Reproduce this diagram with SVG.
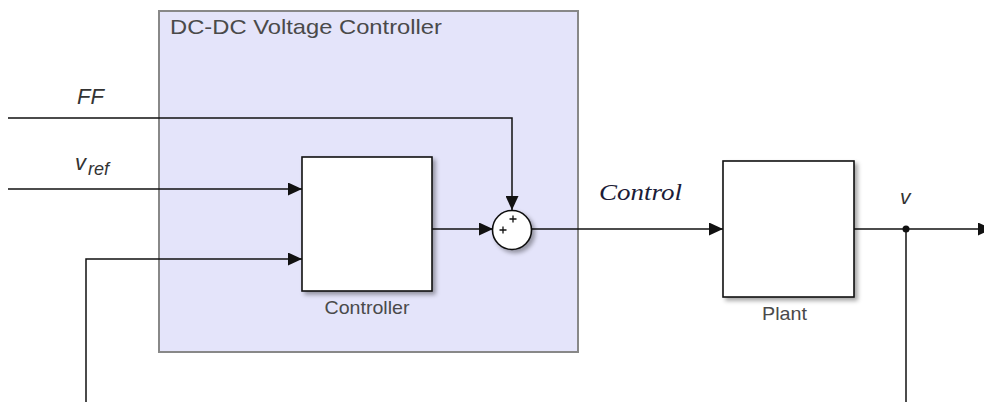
<svg xmlns="http://www.w3.org/2000/svg" width="984" height="402" viewBox="0 0 984 402">
<style>
.wire{fill:none;stroke:#111;stroke-width:1.5}
.blk{fill:#fff;stroke:#111;stroke-width:1.6}
.lbl{font-family:"Liberation Sans",Arial,sans-serif;fill:#4a4a4a}
.sig{font-family:"Liberation Sans",Arial,sans-serif;font-style:italic;fill:#333}
</style>
<defs>
<marker id="arr" markerUnits="userSpaceOnUse" markerWidth="14" markerHeight="13" refX="14" refY="6.5" orient="auto">
<path d="M0,0 L14,6.5 L0,13 z" fill="#111"/>
</marker>
<filter id="sh" x="-20%" y="-20%" width="150%" height="150%">
<feDropShadow dx="3" dy="3" stdDeviation="2.2" flood-color="#000" flood-opacity="0.35"/>
</filter>
</defs>
<rect width="984" height="402" fill="#fff"/>
<g id="subsystem">
<rect x="159" y="11" width="419" height="341" fill="#e4e4fa" stroke="#888" stroke-width="2"/>
<text class="lbl" x="170" y="34" font-size="21" textLength="272" lengthAdjust="spacingAndGlyphs">DC-DC Voltage Controller</text>
</g>
<g id="connectors">
<path class="wire" d="M8,118 H512 V210" marker-end="url(#arr)"/>
<path class="wire" d="M8,189 H302" marker-end="url(#arr)"/>
<path class="wire" d="M86,402 V259 H302" marker-end="url(#arr)"/>
<path class="wire" d="M432,229 H493" marker-end="url(#arr)"/>
<path class="wire" d="M531,229 H723" marker-end="url(#arr)"/>
<path class="wire" d="M854,229 H992" marker-end="url(#arr)"/>
<path class="wire" d="M906,229 V402"/>
<circle cx="906" cy="229" r="3.5" fill="#111"/>
</g>
<g id="controller">
<rect class="blk" x="302" y="157" width="130" height="134" filter="url(#sh)"/>
<text class="lbl" x="367" y="314" font-size="19" text-anchor="middle" textLength="85" lengthAdjust="spacingAndGlyphs">Controller</text>
</g>
<g id="sum">
<circle cx="512" cy="230" r="19.5" fill="#fff" stroke="#111" stroke-width="1.6" filter="url(#sh)"/>
<path d="M499.5,230 h7 M503,226.5 v7 M509.5,219 h7 M513,215.5 v7" stroke="#111" stroke-width="1.3"/>
</g>
<g id="plant">
<rect class="blk" x="723" y="161" width="131" height="136" filter="url(#sh)"/>
<text class="lbl" x="784.5" y="320" font-size="19" text-anchor="middle" textLength="45" lengthAdjust="spacingAndGlyphs">Plant</text>
</g>
<g id="labels">
<text class="sig" x="77" y="104" font-size="22">FF</text>
<text class="sig" x="75" y="170" font-size="22">v<tspan font-size="18" dx="2" dy="5">ref</tspan></text>
<text class="sig" x="900" y="204" font-size="21">v</text>
<text x="599" y="200" font-family="'Liberation Serif','Times New Roman',serif" font-style="italic" font-size="23" fill="#1c1c38" textLength="83" lengthAdjust="spacingAndGlyphs">Control</text>
</g>
</svg>
